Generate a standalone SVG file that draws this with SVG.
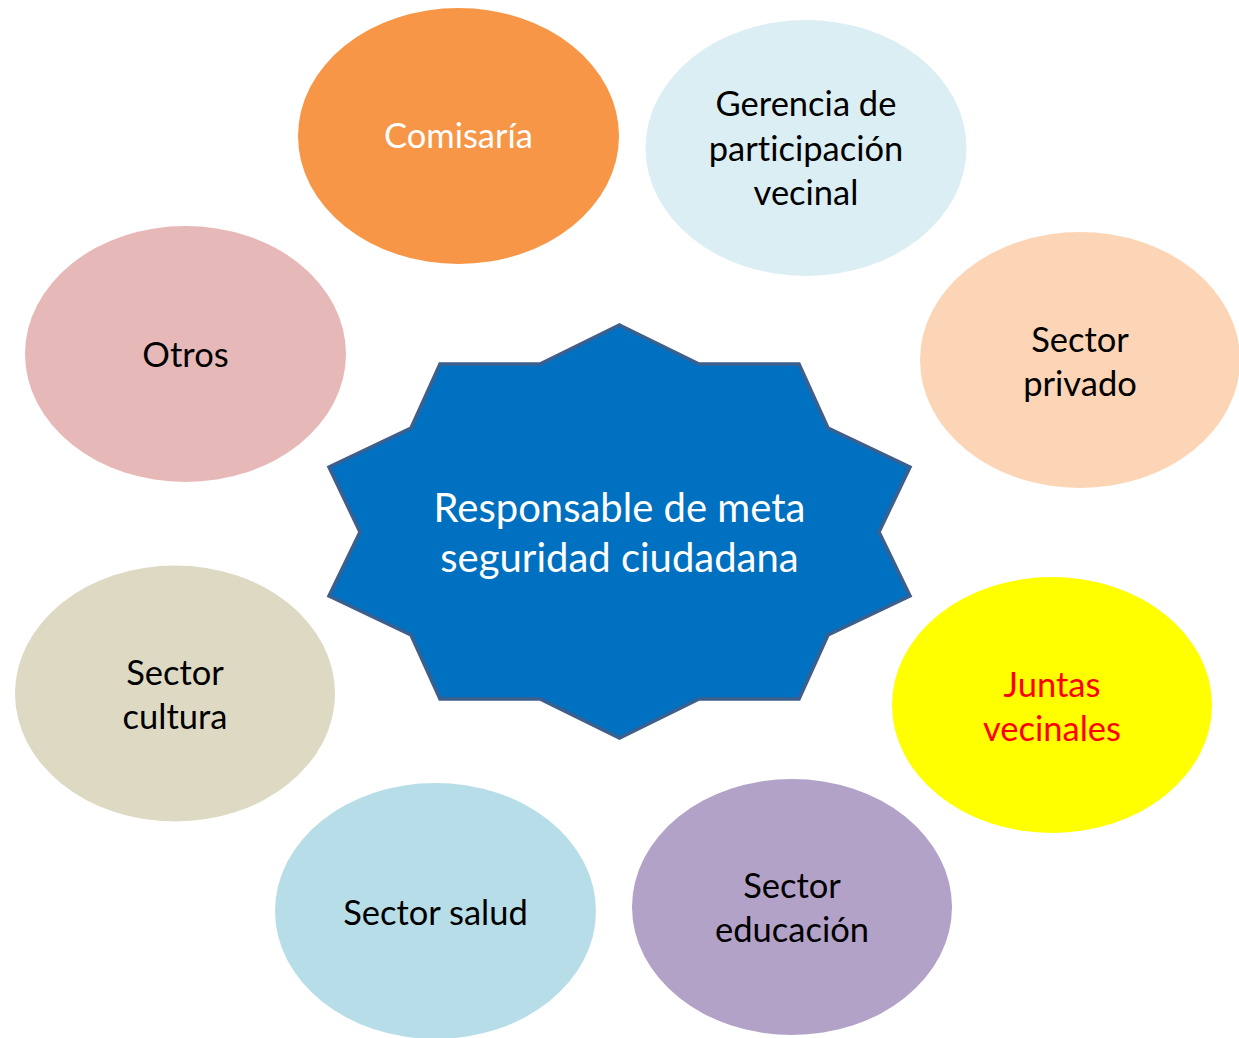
<svg xmlns="http://www.w3.org/2000/svg" width="1239" height="1038" viewBox="0 0 1239 1038">
<style>
text{font-family:Lato,"Noto Sans","Liberation Sans",sans-serif;text-anchor:middle;font-variant-ligatures:none}
.t{font-size:34.5px;fill:#000}
.c{font-size:40px;fill:#fff}
</style>
<rect width="1239" height="1038" fill="#fff"/>
<g id="connectors"/>
<g id="comisaria"><ellipse cx="458.5" cy="136" rx="160.5" ry="128" fill="#f79646"/><text class="t" x="458.5" y="148" style="fill:#fff">Comisaría</text></g>
<g id="gerencia"><ellipse cx="806" cy="148" rx="160.5" ry="128" fill="#dbeef3"/><text class="t" x="806" y="116">Gerencia de</text><text class="t" x="806" y="161">participación</text><text class="t" x="806" y="205">vecinal</text></g>
<g id="privado"><ellipse cx="1080" cy="360" rx="160" ry="128" fill="#fbd5b5"/><text class="t" x="1080" y="352">Sector</text><text class="t" x="1080" y="396">privado</text></g>
<g id="juntas"><ellipse cx="1052" cy="705" rx="160" ry="128" fill="#ffff00"/><text class="t" x="1052" y="697" style="fill:#ff0000">Juntas</text><text class="t" x="1052" y="741" style="fill:#ff0000">vecinales</text></g>
<g id="educacion"><ellipse cx="792" cy="907" rx="160" ry="128" fill="#b2a2c7"/><text class="t" x="792" y="898">Sector</text><text class="t" x="792" y="942">educación</text></g>
<g id="salud"><ellipse cx="435.5" cy="911" rx="160.5" ry="128" fill="#b7dee8"/><text class="t" x="435.5" y="925">Sector salud</text></g>
<g id="cultura"><ellipse cx="175" cy="693.5" rx="160" ry="128" fill="#ddd9c3"/><text class="t" x="175" y="685">Sector</text><text class="t" x="175" y="729">cultura</text></g>
<g id="otros"><ellipse cx="185.5" cy="354" rx="160.5" ry="128" fill="#e6b9b8"/><text class="t" x="185.5" y="367">Otros</text></g>
<g id="center"><polygon points="619.5,325 699,364 799,364 828,428 910,467 879,532 910,596 828,635 799,699 699,699 619.5,738 540,699 440,699 411,635 329,596 360,532 329,467 411,428 440,364 540,364" fill="#0070c0" stroke="#3c5f8e" stroke-width="3.5" stroke-linejoin="miter"/><text class="c" x="619.5" y="522">Responsable de meta</text><text class="c" x="619.5" y="572">seguridad ciudadana</text></g>
</svg>
